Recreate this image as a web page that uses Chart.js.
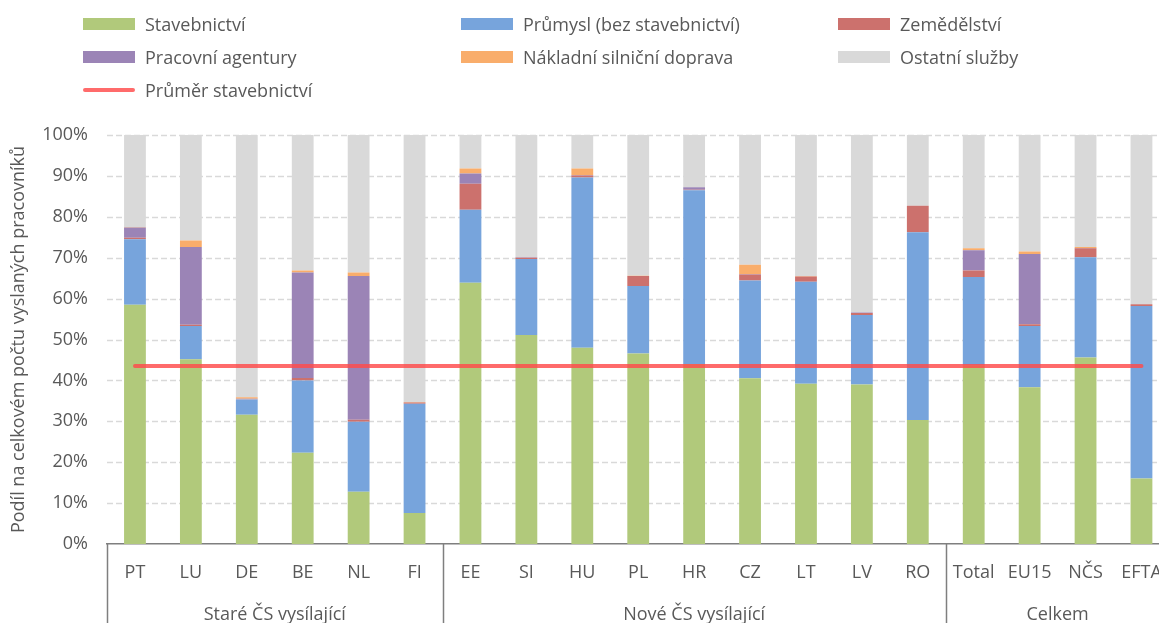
<!DOCTYPE html>
<html>
<head>
<meta charset="utf-8">
<script src="https://cdn.jsdelivr.net/npm/chart.js@4.4.1/dist/chart.umd.min.js"></script>
<style>
  html, body { margin: 0; padding: 0; background: #fff; overflow: hidden; width: 1159px; height: 623px; }
  #wrap { position: absolute; left: 0; top: 0; width: 1180px; height: 623px; }
  #legend { position: absolute; left: 0; top: 0; width: 1159px; height: 110px; font-family: "Open Sans", sans-serif; font-size: 18px; color: #595959; }
  .li { position: absolute; height: 24px; line-height: 24px; white-space: nowrap; }
  .sw { position: absolute; left: 0; top: 6px; width: 52px; height: 12px; }
  .sw.line { top: 10px; height: 4px; border-radius: 2px; }
  .tx { position: absolute; left: 62px; top: 0; }
</style>
</head>
<body>
<div id="wrap"><canvas id="c" width="1180" height="623"></canvas></div>
<div id="legend"></div>
<script>
const categories = ["PT","LU","DE","BE","NL","FI","EE","SI","HU","PL","HR","CZ","LT","LV","RO","Total","EU15","NČS","EFTA"];
const groupNames = ["Staré ČS vysílající","Nové ČS vysílající","Celkem"];
const groupSizes = [6, 9, 4];

const stavebnictvi = [58.5,45.2,31.6,22.3,12.8,7.6,63.9,51.1,48.0,46.6,44.0,40.5,39.2,39.0,30.3,43.7,38.3,45.6,16.0];
const prumysl      = [16.0, 8.1, 3.7,17.7,17.1,26.7,17.8,18.6,41.6,16.5,42.5,23.9,24.9,17.0,45.9,21.6,15.0,24.5,42.2];
const zemedelstvi  = [ 0.4, 0.3, 0.1, 0.6, 0.5, 0.3, 6.4, 0.3, 0.5, 2.4, 0.1, 1.5, 1.3, 0.5, 6.5, 1.6, 0.4, 2.2, 0.4];
const agentury     = [ 2.5,19.0, 0.1,25.8,35.1, 0.0, 2.5, 0.1, 0.1, 0.0, 0.6, 0.1, 0.0, 0.1, 0.0, 4.9,17.2, 0.1, 0.0];
const doprava      = [ 0.1, 1.6, 0.4, 0.5, 0.9, 0.1, 1.2, 0.0, 1.6, 0.1, 0.0, 2.3, 0.1, 0.0, 0.0, 0.5, 0.6, 0.2, 0.0];
const ostatni      = [22.5,25.8,64.1,33.1,33.6,65.3, 8.2,29.9, 8.2,34.4,12.8,31.7,34.5,43.4,17.3,27.7,28.5,27.4,41.4];
const prumerStavebnictvi = [43.5,43.5,43.5,43.5,43.5,43.5,43.5,43.5,43.5,43.5,43.5,43.5,43.5,43.5,43.5,43.5,43.5,43.5,43.5];
const yTicks = [0,10,20,30,40,50,60,70,80,90,100];

const FONT = '"Open Sans", sans-serif';
const TXT = '#595959';
const colors = {
  green: '#B1C97B', blue: '#77A4DC', red: '#CC716D', purple: '#9B84B6', orange: '#F9AD6B', gray: '#D9D9D9', line: 'rgba(255,75,75,0.82)'
};

const barSets = [
  ['Stavebnictví', stavebnictvi, colors.green],
  ['Průmysl (bez stavebnictví)', prumysl, colors.blue],
  ['Zemědělství', zemedelstvi, colors.red],
  ['Pracovní agentury', agentury, colors.purple],
  ['Nákladní silniční doprava', doprava, colors.orange],
  ['Ostatní služby', ostatni, colors.gray]
];

const datasets = barSets.map(([label, data, color]) => ({
  type: 'bar', label, data, backgroundColor: color, borderWidth: 0,
  stack: 'main', order: 1, categoryPercentage: 1, barPercentage: 0.39, xAxisID: 'x', yAxisID: 'y'
}));
datasets.push({
  type: 'line', label: 'Průměr stavebnictví', data: prumerStavebnictvi, stack: 'avg',
  borderColor: colors.line, backgroundColor: colors.line, borderWidth: 4, pointRadius: 0,
  order: 0, xAxisID: 'x', yAxisID: 'y', borderCapStyle: 'round'
});

const groupCenters = [];
const boundaries = [-0.5];
let acc = 0;
groupSizes.forEach(n => { groupCenters.push(acc + (n - 1) / 2); acc += n; boundaries.push(acc - 0.5); });

// dashed horizontal gridlines, positioned by the y scale
const dashedGrid = {
  id: 'dashedGrid',
  beforeDatasetsDraw(chart) {
    const ctx = chart.ctx, ys = chart.scales.y, a = chart.chartArea;
    ctx.save();
    ctx.strokeStyle = '#D9D9D9';
    ctx.lineWidth = 1.3;
    ctx.setLineDash([6, 3]);
    yTicks.forEach(v => {
      if (v === 0) return;
      const py = Math.round(ys.getPixelForValue(v)) + 0.5;
      ctx.beginPath();
      ctx.moveTo(a.left, py);
      ctx.lineTo(a.right, py);
      ctx.stroke();
    });
    ctx.restore();
  }
};

const separators = {
  id: 'separators',
  afterDraw(chart) {
    const ctx = chart.ctx, xs = chart.scales.x2;
    ctx.save();
    ctx.strokeStyle = '#7F7F7F';
    ctx.lineWidth = 1.5;
    boundaries.forEach(b => {
      const px = Math.round(xs.getPixelForValue(b)) + 0.5;
      ctx.beginPath();
      ctx.moveTo(px, chart.chartArea.bottom);
      ctx.lineTo(px, chart.height);
      ctx.stroke();
    });
    ctx.restore();
  }
};

new Chart(document.getElementById('c'), {
  data: { labels: categories, datasets },
  plugins: [dashedGrid, separators],
  options: {
    responsive: false, animation: false, devicePixelRatio: 1,
    layout: { padding: { top: 135, right: 9, left: 0, bottom: 0 } },
    plugins: { legend: { display: false }, tooltip: { enabled: false } },
    scales: {
      x: {
        type: 'category', stacked: true, position: 'bottom',
        grid: { display: false, drawTicks: false },
        border: { display: true, color: '#7F7F7F', width: 1.5 },
        ticks: { font: { family: FONT, size: 18 }, color: TXT, padding: 18, maxRotation: 0, autoSkip: false },
        afterFit(s) { s.height = 46; }
      },
      x2: {
        type: 'linear', position: 'bottom', min: -0.5, max: 18.5,
        grid: { display: false, drawTicks: false }, border: { display: false },
        afterBuildTicks(s) { s.ticks = groupCenters.map(v => ({ value: v })); },
        ticks: {
          font: { family: FONT, size: 18 }, color: TXT, padding: 14, maxRotation: 0, autoSkip: false,
          callback(v) { const i = groupCenters.indexOf(v); return i >= 0 ? groupNames[i] : ''; }
        },
        afterFit(s) { s.height = 33; }
      },
      y: {
        stacked: true, min: 0, max: 100,
        afterBuildTicks(s) { s.ticks = yTicks.map(v => ({ value: v })); },
        grid: { display: false, drawTicks: false },
        border: { display: false },
        ticks: { font: { family: FONT, size: 18 }, color: TXT, padding: 19, callback: v => v + '%' },
        title: { display: true, text: 'Podíl na celkovém počtu vyslaných pracovníků', font: { family: FONT, size: 18 }, color: TXT, padding: { top: 8, bottom: 0 } },
        afterFit(s) { s.width = 107; }
      }
    }
  }
});

const legendItems = [
  ['Stavebnictví', colors.green, false], ['Průmysl (bez stavebnictví)', colors.blue, false], ['Zemědělství', colors.red, false],
  ['Pracovní agentury', colors.purple, false], ['Nákladní silniční doprava', colors.orange, false], ['Ostatní služby', colors.gray, false],
  ['Průměr stavebnictví', '#FF6B6B', true]
];
const colX = [83, 461, 838];
const rowY = [24, 57, 90];
const lg = document.getElementById('legend');
legendItems.forEach(([t, c, isLine], i) => {
  const d = document.createElement('div');
  d.className = 'li';
  d.style.left = colX[i % 3] + 'px';
  d.style.top = (rowY[Math.floor(i / 3)] - 12) + 'px';
  d.innerHTML = '<span class="sw' + (isLine ? ' line' : '') + '" style="background:' + c + '"></span><span class="tx"></span>';
  d.querySelector('.tx').textContent = t;
  lg.appendChild(d);
});
</script>
</body>
</html>
